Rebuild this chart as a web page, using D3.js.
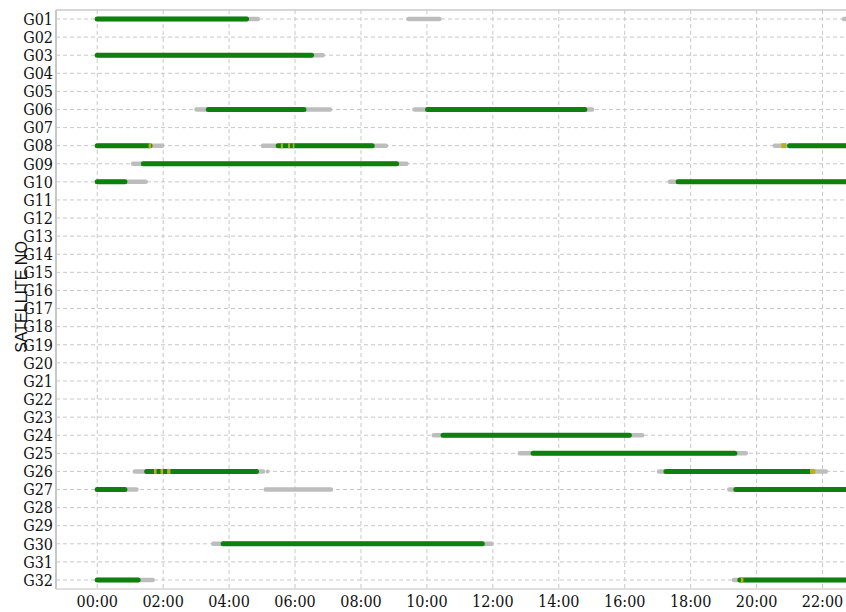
<!DOCTYPE html>
<html><head><meta charset="utf-8">
<script src="https://cdn.jsdelivr.net/npm/d3@7"></script>
<style>html,body{margin:0;padding:0;background:#fff;overflow:hidden}</style>
</head><body>
<script>
// Satellite labels
const satellites = d3.range(1, 33).map(i => "G" + String(i).padStart(2, "0"));
// x tick hours
const tickHours = [0, 2, 4, 6, 8, 10, 12, 14, 16, 18, 20, 22];
// passes: [sat, grayStart, greenStart, greenEnd, grayEnd] in hours
const passSat   = ["G01","G01","G01","G03","G06","G06","G08","G08","G08","G09","G10","G10","G24","G25","G26","G26","G27","G27","G27","G30","G32","G32"];
const grayStart = [0,    9.44, 22.65, 0,    3.01, 9.62, 0,    5.03, 20.55, 1.09, 0,    17.37, 10.21, 12.82, 1.14, 17.04, 0,    5.11, 19.17, 3.52, 0,    19.31];
const greenStart= [0,    null, null,  0,    3.37, 10.02,0,    5.49, 21.0,  1.40, 0,    17.62, 10.49, 13.22, 1.50, 17.25, 0,    null, 19.37, 3.82, 0,    19.49];
const greenEnd  = [4.53, null, null,  6.50, 6.27, 14.79,1.60, 8.34, 26,    9.08, 0.84, 26,    16.14, 19.34, 4.83, 21.62, 0.84, null, 26,    11.68, 1.24, 26];
const grayEnd   = [4.87, 10.38,26,    6.84, 7.06, 15.01,1.97, 8.76, 26,    9.38, 1.47, 26,    16.53, 19.67, 5.03, 22.10, 1.19, 7.09, 26,    11.96, 1.68, 26];
// small gray dots
const dotSat  = ["G08","G26"];
const dotHour = [5.03, 5.17];
// yellow flags: sat, start, end
const ySat   = ["G08","G08","G08","G08","G08","G26","G26","G26","G26","G32"];
const yStart = [1.56, 5.57, 5.79, 5.93, 20.75, 1.72, 1.92, 2.12, 21.62, 19.52];
const yEnd   = [1.64, 5.63, 5.85, 5.98, 20.90, 1.80, 2.00, 2.22, 21.78, 19.60];

const W = 846, H = 612;
const padL = 56, padT = 10, padB = 589;
const svg = d3.select("body").append("svg").attr("width", W).attr("height", H);

const x = d3.scaleLinear().domain([-1.25, 24]).range([padL, padL + 25.25 * 32.97]);
const y = d3.scalePoint().domain(satellites).range([19, 580]);

// horizontal gridlines
svg.append("g").selectAll("line").data(satellites).join("line")
  .attr("x1", padL).attr("x2", W).attr("y1", d => y(d)).attr("y2", d => y(d))
  .attr("stroke", "#c8c8c8").attr("stroke-width", 1).attr("stroke-dasharray", "4,3");
// vertical gridlines
svg.append("g").selectAll("line").data(tickHours).join("line")
  .attr("x1", d => x(d)).attr("x2", d => x(d)).attr("y1", padT).attr("y2", padB)
  .attr("stroke", "#c8c8c8").attr("stroke-width", 1).attr("stroke-dasharray", "4,3");

// border
svg.append("line").attr("x1", padL).attr("x2", padL).attr("y1", padT).attr("y2", padB).attr("stroke", "#c8c8c8").attr("stroke-width", 2);
svg.append("line").attr("x1", padL).attr("x2", W).attr("y1", padT).attr("y2", padT).attr("stroke", "#c8c8c8").attr("stroke-width", 1.5);
svg.append("line").attr("x1", padL).attr("x2", W).attr("y1", padB).attr("y2", padB).attr("stroke", "#d4d4d4").attr("stroke-width", 1.5);

const passes = passSat.map((s, i) => ({s, gs: grayStart[i], g0: greenStart[i], g1: greenEnd[i], ge: grayEnd[i]}));
const marks = svg.append("g");
marks.selectAll("line.gray").data(passes).join("line").attr("class", "gray")
  .attr("x1", d => x(d.gs)).attr("x2", d => x(d.ge)).attr("y1", d => y(d.s)).attr("y2", d => y(d.s))
  .attr("stroke", "#bdbdbd").attr("stroke-width", 4.5).attr("stroke-linecap", "round");
marks.selectAll("circle.dot").data(dotSat.map((s, i) => ({s, h: dotHour[i]}))).join("circle").attr("class", "dot")
  .attr("cx", d => x(d.h)).attr("cy", d => y(d.s)).attr("r", 2).attr("fill", "#bdbdbd");
marks.selectAll("line.green").data(passes.filter(d => d.g0 !== null)).join("line").attr("class", "green")
  .attr("x1", d => x(d.g0)).attr("x2", d => x(d.g1)).attr("y1", d => y(d.s)).attr("y2", d => y(d.s))
  .attr("stroke", "#0e800e").attr("stroke-width", 5).attr("stroke-linecap", "round");
marks.selectAll("line.yel").data(ySat.map((s, i) => ({s, a: yStart[i], b: yEnd[i]}))).join("line").attr("class", "yel")
  .attr("x1", d => x(d.a)).attr("x2", d => x(d.b)).attr("y1", d => y(d.s)).attr("y2", d => y(d.s))
  .attr("stroke", "#b5b21a").attr("stroke-width", 5);

// y tick labels
svg.append("g").selectAll("text").data(satellites).join("text")
  .attr("x", 53).attr("y", d => y(d)).attr("dy", "0.36em").attr("text-anchor", "end")
  .attr("font-family", "'DejaVu Serif Condensed','DejaVu Serif',serif").attr("font-size", 16).attr("fill", "#111")
  .text(d => d);
// x tick labels
svg.append("g").selectAll("text").data(tickHours).join("text")
  .attr("x", d => x(d)).attr("y", 607).attr("text-anchor", "middle")
  .attr("font-family", "'DejaVu Serif Condensed','DejaVu Serif',serif").attr("font-size", 16).attr("fill", "#111")
  .text(d => String(d).padStart(2, "0") + ":00");
// axis title
svg.append("text").attr("transform", "translate(27,297) rotate(-90)").attr("text-anchor", "middle")
  .attr("font-family", "'Liberation Sans',Arial,sans-serif").attr("font-size", 16).attr("fill", "#111")
  .text("SATELLITE NO");
</script>
</body></html>
